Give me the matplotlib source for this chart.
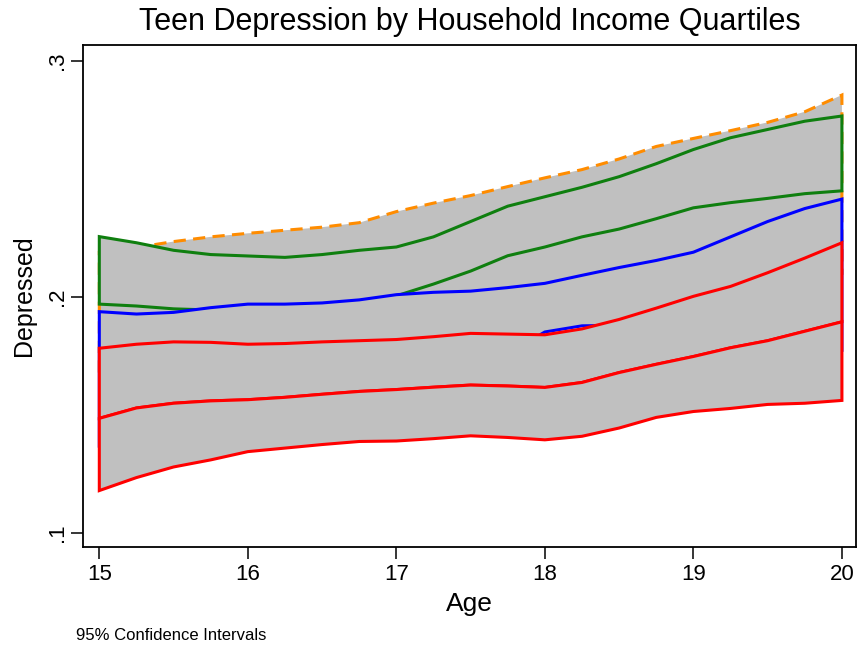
import numpy as np
import matplotlib
matplotlib.use("Agg")
import matplotlib.pyplot as plt

plt.rcParams['font.family'] = ['Liberation Sans', 'DejaVu Sans']

# Age grid (years)
age = np.array([15.0, 15.25, 15.5, 15.75, 16.0, 16.25, 16.5, 16.75, 17.0, 17.25, 17.5,
                17.75, 18.0, 18.25, 18.5, 18.75, 19.0, 19.25, 19.5, 19.75, 20.0])

# 95% CI bounds per income quartile (share depressed)
q4_lo = np.array([0.168, 0.169, 0.170, 0.172, 0.174, 0.175, 0.177, 0.179, 0.181, 0.183, 0.186,
                  0.190, 0.195, 0.198, 0.200, 0.201, 0.202, 0.204, 0.206, 0.208, 0.210])
q4_hi = np.array([0.219, 0.221, 0.2235, 0.2255, 0.227, 0.2283, 0.2296, 0.2315, 0.2362, 0.2398, 0.243,
                  0.2468, 0.2505, 0.254, 0.2585, 0.2638, 0.2672, 0.2705, 0.274, 0.2785, 0.2856])

q3_lo = np.array([0.197, 0.1962, 0.195, 0.1945, 0.195, 0.1955, 0.1962, 0.1975, 0.2005, 0.2055, 0.211,
                  0.2175, 0.2212, 0.2255, 0.2288, 0.2332, 0.2378, 0.240, 0.2418, 0.2438, 0.245])
q3_hi = np.array([0.2256, 0.223, 0.2198, 0.218, 0.2174, 0.2168, 0.218, 0.2198, 0.2212, 0.2255, 0.232,
                  0.2385, 0.2425, 0.2465, 0.251, 0.2565, 0.2625, 0.2675, 0.271, 0.2745, 0.2767])

q2_lo = np.array([0.137, 0.141, 0.145, 0.148, 0.150, 0.153, 0.155, 0.158, 0.160, 0.164, 0.168,
                  0.176, 0.1852, 0.1878, 0.188, 0.187, 0.185, 0.183, 0.181, 0.179, 0.1775])
q2_hi = np.array([0.1938, 0.1928, 0.1935, 0.1955, 0.197, 0.197, 0.1975, 0.1988, 0.201, 0.202, 0.2025,
                  0.204, 0.2058, 0.2092, 0.2125, 0.2155, 0.219, 0.2255, 0.232, 0.2375, 0.2415])

q1_lo = np.array([0.118, 0.1235, 0.128, 0.131, 0.1345, 0.136, 0.1375, 0.1388, 0.139, 0.140, 0.1412,
                  0.1405, 0.1395, 0.141, 0.1445, 0.149, 0.1515, 0.1528, 0.1545, 0.155, 0.1562])
q1_mid = np.array([0.1486, 0.153, 0.155, 0.156, 0.1565, 0.1575, 0.1588, 0.160, 0.1608, 0.1618, 0.1627,
                   0.1623, 0.1617, 0.1638, 0.168, 0.1715, 0.1748, 0.1785, 0.1815, 0.1855, 0.1895])
q1_hi = np.array([0.1783, 0.180, 0.181, 0.1808, 0.180, 0.1803, 0.181, 0.1815, 0.182, 0.1832, 0.1846,
                  0.1843, 0.184, 0.1865, 0.1905, 0.1953, 0.2003, 0.2045, 0.2103, 0.2165, 0.223])

yticks = [0.1, 0.2, 0.3]
ytick_labels = [".1", ".2", ".3"]
xticks = [15, 16, 17, 18, 19, 20]

fig = plt.figure(figsize=(8.58, 6.49), dpi=100)
ax = fig.add_axes([0.0967, 0.1572, 0.901, 0.7735])

# gray CI areas, each outlined in its quartile colour; later ones sit on top
fill = "#c0c0c0"
bands = [
    (q4_lo, q4_hi, "#ff8c00", (0, (4, 2.4))),
    (q3_lo, q3_hi, "#0f7f0f", "solid"),
    (q2_lo, q2_hi, "#0000ff", "solid"),
    (q1_mid, q1_hi, "#ff0000", "solid"),
    (q1_lo, q1_mid, "#ff0000", "solid"),
]
for z, (lo, hi, col, ls) in enumerate(bands):
    ax.fill(np.concatenate([age, age[::-1]]), np.concatenate([lo, hi[::-1]]),
            facecolor=fill, edgecolor=col, linewidth=2.2, linestyle=ls, zorder=2 + z)

ax.set_xlim(14.89, 20.095)
ax.set_ylim(0.0941, 0.3068)
ax.set_xticks(xticks)
ax.set_yticks(yticks)
ax.set_yticklabels(ytick_labels, rotation=90, va="center")
ax.tick_params(axis="both", direction="out", length=8.5, width=1.1, labelsize=16, colors="black")
ax.tick_params(axis="x", pad=4)
ax.tick_params(axis="y", pad=2)
for sp in ax.spines.values():
    sp.set_linewidth(1.3)

ax.set_xlabel("Age", fontsize=19, labelpad=5)
ax.set_ylabel("Depressed", fontsize=18, labelpad=8)

fig.text(0.547, 1 - 22 / 649, "Teen Depression by Household Income Quartiles",
         ha="center", va="center", fontsize=22)
fig.text(76 / 858, 1 - 636 / 649, "95% Confidence Intervals", ha="left", va="center", fontsize=12)

fig.savefig("out.png", dpi=100)
